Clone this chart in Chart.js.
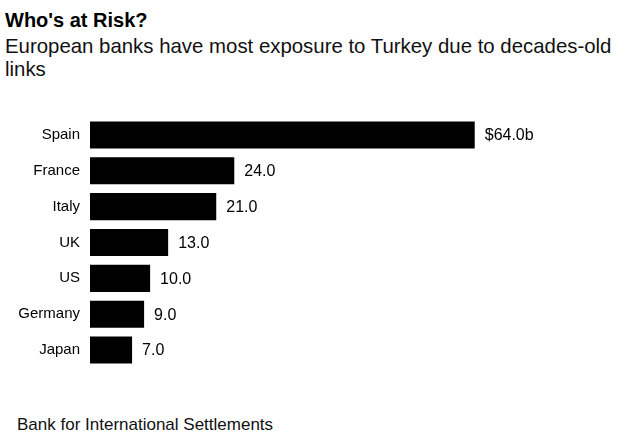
<!DOCTYPE html>
<html>
<head>
<meta charset="utf-8">
<script src="https://cdn.jsdelivr.net/npm/chart.js@4"></script>
<style>
  body { margin: 0; background: #fff; font-family: "Liberation Sans", Arial, sans-serif; }
  #wrap { position: relative; width: 636px; height: 437px; overflow: hidden; }
  #title { position: absolute; left: 5px; top: 9px; font-size: 20px; line-height: 23px; font-weight: bold; color: #000; }
  #subtitle { position: absolute; left: 5px; top: 35px; width: 625px; font-size: 20.4px; line-height: 23px; color: #111; }
  #chartbox { position: absolute; left: 0; top: 117px; width: 636px; height: 251px; }
  #source { position: absolute; left: 17px; top: 415px; font-size: 17px; color: #111; }
</style>
</head>
<body>
<div id="wrap">
  <div id="title">Who's at Risk?</div>
  <div id="subtitle">European banks have most exposure to Turkey due to decades-old links</div>
  <div id="chartbox"><canvas id="RiskChart"></canvas></div>
  <div id="source">Bank for International Settlements</div>
</div>
<script>
const countries = ['Spain', 'France', 'Italy', 'UK', 'US', 'Germany', 'Japan'];
const exposure = [64.0, 24.0, 21.0, 13.0, 10.0, 9.0, 7.0];

// labels at the end of each bar
const valueLabels = {
    id: 'valueLabels',
    afterDatasetsDraw(chart) {
        const ctx = chart.ctx;
        const meta = chart.getDatasetMeta(0);
        ctx.save();
        ctx.font = '16px "Liberation Sans", Arial, sans-serif';
        ctx.fillStyle = '#000';
        ctx.textBaseline = 'middle';
        ctx.textAlign = 'left';
        meta.data.forEach((bar, i) => {
            let txt = exposure[i].toFixed(1);
            if (i == 0) txt = '$' + txt + 'b';
            ctx.fillText(txt, bar.x + 10, bar.y + 1);
        });
        ctx.restore();
    }
};

new Chart(document.getElementById('RiskChart'), {
    type: 'bar',
    data: {
        labels: countries,
        datasets: [{
            data: exposure,
            backgroundColor: '#000',
            borderWidth: 0,
            barPercentage: 0.755,
            categoryPercentage: 1
        }]
    },
    options: {
        indexAxis: 'y',
        responsive: true,
        maintainAspectRatio: false,
        animation: false,
        layout: { padding: { top: 0, bottom: 0, left: 0, right: 17 } },
        scales: {
            x: { display: false, min: 0, max: 88 },
            y: {
                grid: { display: false },
                border: { display: false },
                ticks: {
                    color: '#000',
                    padding: 2,
                    font: { family: '"Liberation Sans", Arial, sans-serif', size: 15 }
                },
                afterFit(scale) {
                    scale.width = 90;
                    scale.paddingTop = 0;
                    scale.paddingBottom = 0;
                }
            }
        },
        plugins: {
            legend: { display: false },
            tooltip: { enabled: false }
        }
    },
    plugins: [valueLabels]
});
</script>
</body>
</html>
